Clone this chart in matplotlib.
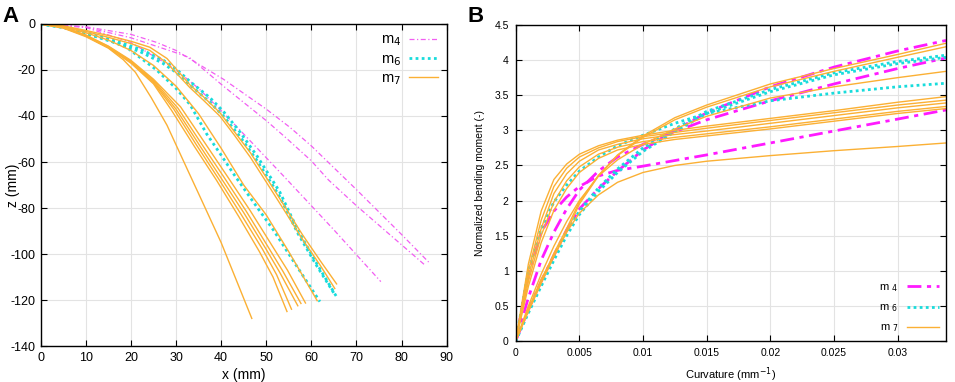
import matplotlib
matplotlib.use("Agg")
import matplotlib.pyplot as plt

# ---------------- Panel A data (x, z in mm) ----------------
m4a_x = [0, 10, 20, 25.7, 30, 40.5, 50, 55.3, 60, 70, 80, 86]
m4a_z = [0, -1.2, -4.5, -8, -11.5, -24, -37, -45, -53, -72, -91.5, -103.5]
m4b_x = [0, 10, 20, 30, 33, 40.5, 50, 54.5, 60, 63.8, 70, 80, 85]
m4b_z = [0, -1.4, -6, -12.5, -14.6, -27, -42, -49.7, -59.5, -67.8, -79, -96, -104.5]
m4c_x = [0, 10, 20, 24.2, 29.4, 35, 41.2, 48, 53.8, 58.1, 65, 75.4]
m4c_z = [0, -1.5, -8, -13, -19, -28, -40, -54, -66, -75, -89.5, -112]

m6a_x = [0, 5, 10, 16, 22, 27, 30, 33.1, 37.5, 40.5, 44.2, 48, 53, 57, 61, 65.6]
m6a_z = [0, -1.3, -3.8, -7, -10.9, -15.5, -19.5, -25, -32, -38, -47, -57.5, -73, -89.6, -103.5, -118.6]
m6b_x = [0, 5, 10, 16, 22, 27, 30, 33.1, 37.5, 40.5, 44.2, 48, 53, 57, 61, 65]
m6b_z = [0, -1.5, -4.2, -7.8, -12, -17, -21, -26.5, -34, -40, -49, -59.5, -75, -91, -104.5, -117]
m6c_x = [0, 5, 10, 15, 19, 25.7, 30, 33.1, 36.8, 40, 42.7, 47, 51.6, 56, 61.9]
m6c_z = [0, -1.5, -4, -7, -10.1, -20, -28, -35, -47.8, -57, -65, -77, -89.6, -103, -120.7]

m7_1_x = [0, 5, 10, 15, 18.3, 21, 24.5, 28, 32.7, 35.3, 40, 46.8]
m7_1_z = [0, -1.8, -5.5, -10.5, -15.5, -21, -32, -44, -64, -75, -95, -128]
m7_2_x = [0, 5, 10, 15, 20, 25, 29, 34, 39, 44, 48.5, 51.5, 54.6]
m7_2_z = [0, -1.6, -5.2, -10.3, -17, -26, -37.5, -53, -68, -84, -99, -110, -125]
m7_3_x = [0, 5, 10, 15, 20, 25, 29.5, 34.5, 39.5, 44.5, 49.2, 52.3, 55.6]
m7_3_z = [0, -1.5, -5.1, -10.1, -16.7, -25.5, -37, -52.5, -67.5, -83, -98, -109, -124]
m7_4_x = [0, 5, 10, 15, 20, 25, 30, 35.3, 40, 45, 50, 53, 57]
m7_4_z = [0, -1.5, -5, -10, -16.5, -25, -37, -53, -67, -82, -98, -108, -122.5]
m7_5_x = [0, 5, 10, 15, 20, 25, 30.4, 35.8, 40.6, 45.6, 50.6, 53.7, 57.7]
m7_5_z = [0, -1.4, -4.9, -9.8, -16.2, -24.5, -36.5, -52.5, -66.5, -81.5, -97.5, -107.5, -121.5]
m7_6_x = [0, 5, 10, 15, 20, 25, 31, 36.5, 41.3, 46.4, 51.5, 54.7, 58.7]
m7_6_z = [0, -1.4, -4.8, -9.6, -15.8, -24, -36, -52, -66, -81, -97, -107, -121.3]
m7_7_x = [0, 5, 10, 15, 20, 25, 30, 35, 40, 45, 50, 55, 61.3]
m7_7_z = [0, -1.2, -3.8, -7, -11.5, -18, -27, -39, -54, -70, -83, -99, -120.3]
m7_8_x = [0, 5, 10, 15, 20, 24.2, 28, 33.1, 36, 39.7, 43, 46.5, 50.1, 54, 58, 62, 65.6]
m7_8_z = [0, -0.8, -2.8, -5, -7.5, -10.1, -15, -26.5, -31.5, -38.5, -47, -56, -67, -79, -91.5, -103, -113]
m7_9_x = [0, 5, 10, 15, 20, 24.2, 28, 33, 36, 39.7, 43, 46.5, 50.1, 54, 58, 62, 65.2]
m7_9_z = [0, -1, -3.2, -5.8, -8.5, -11.5, -17, -27.5, -33, -40, -48.5, -58, -69, -81, -93.5, -105, -115]

# ---------------- Panel B data ----------------
curv = [0, 0.001, 0.002, 0.003, 0.004, 0.005, 0.0065, 0.008, 0.01, 0.0125, 0.015, 0.02, 0.025, 0.03, 0.0338]
b_m4a = [0, 0.45, 0.85, 1.22, 1.58, 1.88, 2.17, 2.42, 2.72, 3.0, 3.25, 3.62, 3.9, 4.13, 4.28]
b_m4b = [0, 0.62, 1.15, 1.55, 1.88, 2.15, 2.42, 2.62, 2.8, 2.98, 3.15, 3.42, 3.66, 3.88, 4.03]
b_m4c = [0, 0.95, 1.55, 1.85, 2.05, 2.2, 2.35, 2.43, 2.49, 2.57, 2.65, 2.82, 2.99, 3.16, 3.29]
b_m6a = [0, 0.42, 0.82, 1.2, 1.55, 1.85, 2.18, 2.45, 2.75, 3.02, 3.27, 3.58, 3.82, 3.98, 4.07]
b_m6b = [0, 0.40, 0.78, 1.15, 1.5, 1.8, 2.13, 2.4, 2.7, 2.98, 3.24, 3.55, 3.79, 3.95, 4.04]
b_m6c = [0, 1.0, 1.6, 1.98, 2.22, 2.42, 2.62, 2.78, 2.93, 3.1, 3.24, 3.42, 3.53, 3.62, 3.67]
b_m7_1 = [0, 0.42, 0.82, 1.2, 1.55, 1.95, 2.35, 2.65, 2.92, 3.18, 3.36, 3.66, 3.88, 4.08, 4.24]
b_m7_2 = [0, 0.45, 0.85, 1.25, 1.6, 1.98, 2.36, 2.64, 2.9, 3.15, 3.33, 3.62, 3.84, 4.04, 4.19]
b_m7_3 = [0, 0.5, 0.95, 1.35, 1.7, 2.0, 2.35, 2.58, 2.8, 3.02, 3.2, 3.46, 3.62, 3.75, 3.84]
b_m7_4 = [0, 1.1, 1.85, 2.3, 2.52, 2.66, 2.78, 2.86, 2.93, 3.0, 3.06, 3.17, 3.28, 3.4, 3.48]
b_m7_5 = [0, 1.0, 1.72, 2.2, 2.46, 2.62, 2.75, 2.84, 2.91, 2.97, 3.03, 3.14, 3.25, 3.36, 3.43]
b_m7_6 = [0, 0.92, 1.6, 2.1, 2.38, 2.56, 2.72, 2.8, 2.88, 2.94, 2.99, 3.1, 3.21, 3.32, 3.39]
b_m7_7 = [0, 0.85, 1.5, 1.98, 2.28, 2.48, 2.66, 2.76, 2.84, 2.9, 2.95, 3.05, 3.16, 3.27, 3.34]
b_m7_8 = [0, 0.78, 1.4, 1.86, 2.17, 2.4, 2.6, 2.72, 2.8, 2.87, 2.92, 3.02, 3.13, 3.24, 3.31]
b_m7_9 = [0, 0.45, 0.88, 1.22, 1.55, 1.82, 2.08, 2.26, 2.4, 2.5, 2.56, 2.64, 2.71, 2.77, 2.82]

a_xticks = [0, 10, 20, 30, 40, 50, 60, 70, 80, 90]
a_yticks = [0, -20, -40, -60, -80, -100, -120, -140]
b_xticks = [0, 0.005, 0.01, 0.015, 0.02, 0.025, 0.03]
b_xticklabels = ["0", "0.005", "0.01", "0.015", "0.02", "0.025", "0.03"]
b_yticks = [0, 0.5, 1, 1.5, 2, 2.5, 3, 3.5, 4, 4.5]
b_yticklabels = ["0", "0.5", "1", "1.5", "2", "2.5", "3", "3.5", "4", "4.5"]
labels = ["m$_4$", "m$_6$", "m$_7$"]
labels_b = ["m $_4$", "m $_6$", "m $_7$"]

MAG_A = "#f25ef2"
MAG_B = "#ff1aff"
CYAN = "#18dcdc"
ORANGE = "#fbb034"

plt.rcParams['font.family'] = ['Liberation Sans', 'DejaVu Sans']
plt.rcParams['axes.unicode_minus'] = False

fig = plt.figure(figsize=(9.55, 3.82), dpi=100)
axA = fig.add_axes([0.0426, 0.0942, 0.4251, 0.843])
axB = fig.add_axes([0.540, 0.1073, 0.4506, 0.8273])

def style(ax, fs, pad):
    ax.grid(True, color="#e3e3e3", lw=0.8)
    ax.set_axisbelow(True)
    ax.tick_params(direction="in", top=True, right=True, labelsize=fs, length=4, width=0.8, pad=pad)
    for s in ax.spines.values():
        s.set_linewidth(1.0)

# Panel A
dashA = (0, (4, 2, 1, 2))
for xs, zs in [(m4a_x, m4a_z), (m4b_x, m4b_z), (m4c_x, m4c_z)]:
    l4, = axA.plot(xs, zs, color=MAG_A, lw=0.9, linestyle=dashA)
for xs, zs in [(m6a_x, m6a_z), (m6b_x, m6b_z), (m6c_x, m6c_z)]:
    l6, = axA.plot(xs, zs, color=CYAN, lw=2.0, linestyle=(0, (1, 1.2)))
for xs, zs in [(m7_1_x, m7_1_z), (m7_2_x, m7_2_z), (m7_3_x, m7_3_z), (m7_4_x, m7_4_z),
               (m7_5_x, m7_5_z), (m7_6_x, m7_6_z), (m7_7_x, m7_7_z), (m7_8_x, m7_8_z),
               (m7_9_x, m7_9_z)]:
    l7, = axA.plot(xs, zs, color=ORANGE, lw=1.0)
axA.set_xlim(0, 90)
axA.set_ylim(-140, 0)
axA.set_xticks(a_xticks)
axA.set_yticks(a_yticks)
style(axA, 9, 4)
axA.set_xlabel("x (mm)", fontsize=10, labelpad=3)
axA.set_ylabel("z (mm)", fontsize=10)
axA.yaxis.set_label_coords(-0.052, 0.5)
axA.legend([l4, l6, l7], labels, loc="upper right", frameon=False, markerfirst=False,
           fontsize=10.5, handlelength=2.0, labelspacing=0.25, borderaxespad=0.3,
           handletextpad=0.5, borderpad=0.3)

# Panel B
dashB = (0, (5, 2, 1.5, 2))
for ys in [b_m4a, b_m4b, b_m4c]:
    k4, = axB.plot(curv, ys, color=MAG_B, lw=2.0, linestyle=dashB)
for ys in [b_m6a, b_m6b, b_m6c]:
    k6, = axB.plot(curv, ys, color=CYAN, lw=2.0, linestyle=(0, (1, 1.2)))
for ys in [b_m7_1, b_m7_2, b_m7_3, b_m7_4, b_m7_5, b_m7_6, b_m7_7, b_m7_8, b_m7_9]:
    k7, = axB.plot(curv, ys, color=ORANGE, lw=1.0)
axB.set_xlim(0, 0.0338)
axB.set_ylim(0, 4.5)
axB.set_xticks(b_xticks)
axB.set_xticklabels(b_xticklabels)
axB.set_yticks(b_yticks)
axB.set_yticklabels(b_yticklabels)
style(axB, 7.5, 5)
axB.set_xlabel("Curvature (mm$^{-1}$)", fontsize=8, labelpad=5)
axB.set_ylabel("Normalized bending moment (-)", fontsize=7.5)
axB.yaxis.set_label_coords(-0.072, 0.5)
axB.legend([k4, k6, k7], labels_b, loc="lower right", frameon=False, markerfirst=False,
           fontsize=8, handlelength=2.9, labelspacing=0.75, borderaxespad=0.4,
           handletextpad=0.8, borderpad=0.2)

fig.text(0.003, 0.985, "A", fontsize=16, fontweight="bold", va="top", ha="left")
fig.text(0.490, 0.985, "B", fontsize=16, fontweight="bold", va="top", ha="left")

fig.savefig("out.png", dpi=100)
